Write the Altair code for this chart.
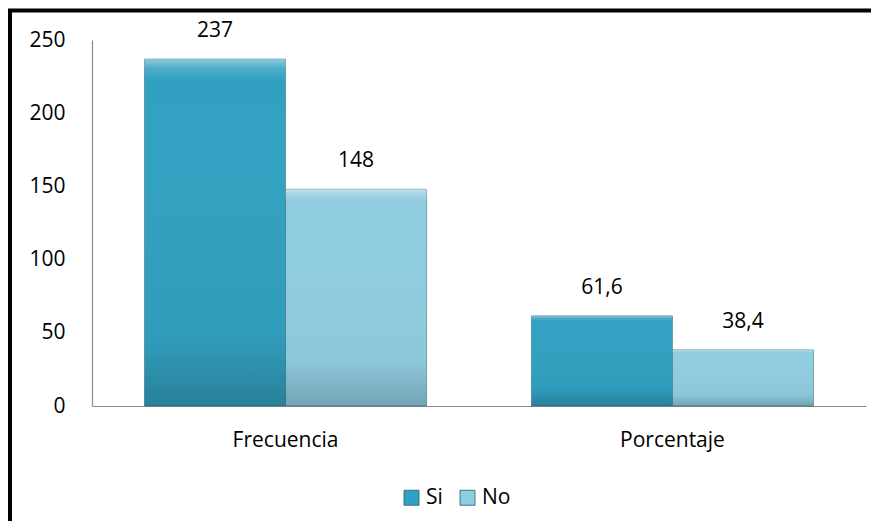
import altair as alt
import pandas as pd

categories = ["Frecuencia", "Frecuencia", "Porcentaje", "Porcentaje"]
series = ["Si", "No", "Si", "No"]
values = [237, 148, 61.6, 38.4]
labels = [f"{v:g}".replace(".", ",") for v in values]

df = pd.DataFrame({"cat": categories, "serie": series, "valor": values, "etiqueta": labels})

FONT = "Open Sans"
FS = 21
W, H = 774, 366

x_enc = alt.X("cat:N", title=None,
              scale=alt.Scale(paddingInner=0.271, paddingOuter=0.1357),
              axis=alt.Axis(labelAngle=0, labelFontSize=FS, labelFont=FONT, labelColor="#000000",
                            ticks=False, domainColor="#8c8c8c", domainWidth=1.2, labelPadding=23))
xo_enc = alt.XOffset("serie:N", sort=["Si", "No"], scale=alt.Scale(paddingInner=0, paddingOuter=0))
y_enc = alt.Y("valor:Q", title=None,
              scale=alt.Scale(domain=[0, 250], nice=False),
              axis=alt.Axis(values=[0, 50, 100, 150, 200, 250], labelFontSize=FS, labelFont=FONT,
                            labelColor="#000000", ticks=False, grid=False, domainColor="#8c8c8c",
                            domainWidth=1.2, labelPadding=27))

base = alt.Chart(df)

bars = base.mark_bar(stroke="#1f5f70", strokeWidth=0.8, strokeOpacity=0.6).encode(
    x=x_enc, xOffset=xo_enc, y=y_enc,
    fill=alt.Fill("serie:N", sort=["Si", "No"],
                  scale=alt.Scale(domain=["Si", "No"], range=["#32a1c1", "#90cde0"]),
                  legend=alt.Legend(title=None, orient="none", direction="horizontal",
                                    legendX=309, legendY=447, symbolType="square", symbolSize=225,
                                    labelFontSize=FS, labelFont=FONT, labelColor="#000000",
                                    symbolStrokeColor="#1f5f70", symbolStrokeWidth=0.8,
                                    columnPadding=14, labelOffset=4, padding=0)),
)

shade = base.mark_bar(fill={
    "gradient": "linear", "x1": 0, "y1": 0, "x2": 0, "y2": 1,
    "stops": [
        {"offset": 0, "color": "rgba(255,255,255,0.45)"},
        {"offset": 0.025, "color": "rgba(255,255,255,0.15)"},
        {"offset": 0.06, "color": "rgba(255,255,255,0)"},
        {"offset": 0.8, "color": "rgba(0,0,0,0.03)"},
        {"offset": 1, "color": "rgba(0,0,0,0.2)"},
    ]}).encode(x=x_enc, xOffset=xo_enc, y=y_enc)

text = base.mark_text(font=FONT, fontSize=FS, color="#000000", baseline="middle", dy=-28).encode(
    x=x_enc, xOffset=xo_enc, y=y_enc, text="etiqueta:N")

frame_df = pd.DataFrame({"k": [0]})
left_border = alt.Chart(frame_df).mark_rule(color="#000000", strokeWidth=4).encode(
    x=alt.value(-82), y=alt.value(-31), y2=alt.value(490))
top_border = alt.Chart(frame_df).mark_rule(color="#000000", strokeWidth=4).encode(
    x=alt.value(-84), x2=alt.value(790), y=alt.value(-29.5))

chart = alt.layer(bars, shade, text, left_border, top_border).properties(
    width=W, height=H,
    autosize=alt.AutoSizeParams(type="none"),
    padding={"left": 84, "top": 32, "right": 5, "bottom": 115},
    background="#ffffff",
).configure_view(stroke=None)

chart.save("out.html", embed_options={"renderer": "svg", "actions": False})
